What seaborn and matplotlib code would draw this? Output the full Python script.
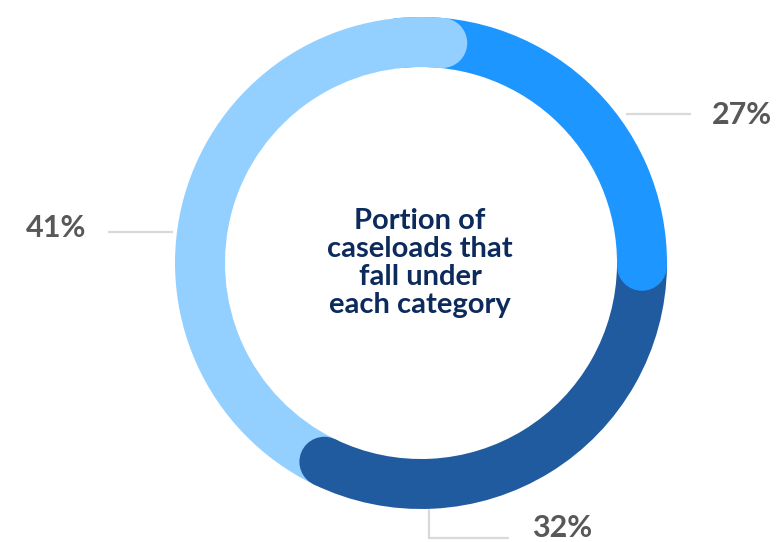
import numpy as np
import matplotlib
matplotlib.use("Agg")
import matplotlib.pyplot as plt
from matplotlib.patches import Wedge, Circle
import seaborn as sns

# Share of caseloads per category, clockwise from 12 o'clock
shares = [27, 32, 41]
labels = ["27%", "32%", "41%"]
center_lines = ["Portion of", "caseloads that", "fall under", "each category"]

sns.set_theme(style="white")
plt.rcParams["font.family"] = ["Lato", "DejaVu Sans"]
colors = sns.color_palette(["#1E96FF", "#215B9F", "#93D0FF"])

W, H = 780, 542
fig = plt.figure(figsize=(W / 100, H / 100), dpi=100)
ax = fig.add_axes([0, 0, 1, 1])
ax.set_xlim(0, W)
ax.set_ylim(0, H)
ax.set_aspect("equal")
ax.axis("off")

cx, cy = 421, H - 263          # ring centre
r_out, ring_w = 246, 50
r_mid = r_out - ring_w / 2
cap_deg = np.degrees((ring_w / 2) / r_mid)   # angular reach of a round cap
close_overlap = 12                            # last slice laps over the first

bounds = np.concatenate([[0], np.cumsum(shares) / sum(shares) * 360])


def to_mpl(phi):
    """clockwise-from-top degrees -> matplotlib counter-clockwise degrees"""
    return 90 - phi


ends = []
for i, col in enumerate(colors):
    start = bounds[i] - cap_deg
    end = bounds[i + 1] - cap_deg
    if i == len(shares) - 1:
        end += close_overlap
    ends.append(end)
    ax.add_patch(Wedge((cx, cy), r_out, to_mpl(end), to_mpl(start),
                       width=ring_w, facecolor=col, edgecolor="none"))

# rounded ends drawn over the following slice
for end, col in zip(ends, colors):
    a = np.radians(end)
    ax.add_patch(Circle((cx + r_mid * np.sin(a), cy + r_mid * np.cos(a)),
                        ring_w / 2, facecolor=col, edgecolor="none"))

# leader lines
lc = "#D9D9D9"
ax.plot([626, 691], [H - 114, H - 114], color=lc, lw=1.6, solid_capstyle="butt")
ax.plot([108, 173], [H - 232, H - 232], color=lc, lw=1.6, solid_capstyle="butt")
ax.plot([429, 429, 508], [H - 510, H - 538, H - 538], color=lc, lw=1.6,
        solid_joinstyle="miter")

# value labels
tc = "#58585B"
lab_pos = [(712, 123.5), (532, 537), (26, 237)]
for txt, (x, y) in zip(labels, lab_pos):
    ax.text(x, H - y, txt, ha="left", va="baseline", fontsize=22,
            fontweight="bold", color=tc)

# centre caption
for txt, y in zip(center_lines, [229, 257, 285, 313]):
    ax.text(420, H - y, txt, ha="center", va="baseline", fontsize=21,
            fontweight="bold", color="#0C2B5C")

fig.savefig("out.png", dpi=100, facecolor="white")
